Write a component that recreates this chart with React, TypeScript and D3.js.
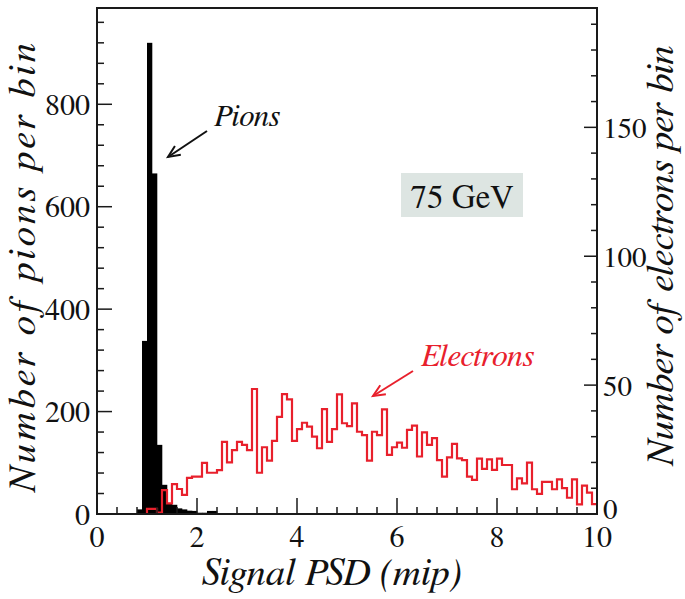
import React from "react";
import * as d3 from "d3";

const binWidth = 0.1;
const pionStart = 0.8;
const pionCounts = [9, 338, 920, 665, 135, 57, 19.5, 18, 11, 9, 6.5, 6, 2.5, 2.5, 6, 6];
const electronStart = 1.0;
const electronCounts = [
  2, 2, 0.5, 9.3, 4.1, 11.6, 9.7, 7.4, 14, 14.5,
  14.5, 19.8, 16, 16, 17, 28, 20, 24.8, 28, 26.8,
  24.8, 48.5, 16, 25.9, 20.7, 28.4, 37.7, 46.5, 44.5, 28.4,
  32.9, 35.4, 33.9, 30, 25.5, 40.7, 28, 32.9, 46.4, 35.2,
  34.1, 42.9, 31.9, 30.6, 20.7, 31.9, 30.6, 40.6, 22.9, 25.9,
  27.7, 25.7, 32.6, 34.3, 22.3, 31.7, 26.8, 29.4, 20.9, 14.5,
  22, 27.2, 21.6, 20.9, 14.5, 13.2, 21.5, 17.5, 21.2, 17.1,
  21.5, 19, 19, 9.6, 13.8, 11.9, 19.9, 9.6, 7.8, 12.5,
  12.5, 9.6, 13.4, 10, 6.3, 13.4, 3.7, 11, 8.3, 3.8,
];
const xMajorTicks = [0, 2, 4, 6, 8, 10];
const leftMajorTicks = [0, 200, 400, 600, 800];
const rightMajorTicks = [0, 50, 100, 150];

const W = 685, H = 599;
const L = 97, R = 597, T = 8, B = 514;
const FONT = "FreeSerif, 'Liberation Serif', serif";
const RED = "#e8202c";

export default function App() {
  const x = d3.scaleLinear().domain([0, 10]).range([L, R]);
  const yL = d3.scaleLinear().domain([0, 988]).range([B, T]);
  const yR = d3.scaleLinear().domain([0, 196.3]).range([B, T]);

  const xMinor = d3.range(0, 10.001, 0.4).filter((v) => Math.abs(v / 2 - Math.round(v / 2)) > 0.01);
  const lMinor = d3.range(40, 988, 40).filter((v) => v % 200 !== 0);
  const rMinor = d3.range(10, 196, 10).filter((v) => v % 50 !== 0);

  let ePath = `M${x(electronStart)},${yR(0)}`;
  electronCounts.forEach((c, i) => {
    const x0 = x(electronStart + i * binWidth);
    const x1 = x(electronStart + (i + 1) * binWidth);
    ePath += `L${x0},${yR(c)}L${x1},${yR(c)}`;
  });

  const arrowHead = (tx: number, ty: number, fx: number, fy: number, len = 13, spread = 0.42) => {
    const ang = Math.atan2(fy - ty, fx - tx);
    const a1 = ang + spread, a2 = ang - spread;
    return `M${tx + len * Math.cos(a1)},${ty + len * Math.sin(a1)}L${tx},${ty}L${tx + len * Math.cos(a2)},${ty + len * Math.sin(a2)}`;
  };

  const ts = { fontFamily: FONT };

  return (
    <svg width={W} height={H} style={{ position: "absolute", left: 0, top: 0, background: "#fff", fontFamily: FONT }}>
      <rect x={0} y={0} width={W} height={H} fill="#fff" />
      {pionCounts.map((c, i) => {
        const x0 = x(pionStart + i * binWidth);
        const x1 = x(pionStart + (i + 1) * binWidth);
        return <rect key={"p" + i} x={x0} y={yL(c)} width={x1 - x0 + 0.3} height={yL(0) - yL(c)} fill="#000" />;
      })}
      <path d={ePath} fill="none" stroke={RED} strokeWidth={2.2} strokeLinejoin="miter" />

      <rect x={L} y={T} width={R - L} height={B - T} fill="none" stroke="#1a1a1a" strokeWidth={2} />

      {xMajorTicks.map((v) => (
        <g key={"xm" + v}>
          <line x1={x(v)} x2={x(v)} y1={B} y2={B - 16} stroke="#1a1a1a" strokeWidth={1.5} />
          <text x={x(v)} y={547} fontSize={30} textAnchor="middle" fill="#111" style={ts}>{v}</text>
        </g>
      ))}
      {xMinor.map((v) => (
        <line key={"xn" + v} x1={x(v)} x2={x(v)} y1={B} y2={B - 7} stroke="#1a1a1a" strokeWidth={1.5} />
      ))}

      {leftMajorTicks.map((v) => (
        <g key={"lm" + v}>
          <line x1={L} x2={L + 15} y1={yL(v)} y2={yL(v)} stroke="#1a1a1a" strokeWidth={1.5} />
          <text x={90} y={yL(v) + 10.5} fontSize={30} textAnchor="end" fill="#111" style={ts}>{v}</text>
        </g>
      ))}
      {lMinor.map((v) => (
        <line key={"ln" + v} x1={L} x2={L + 7} y1={yL(v)} y2={yL(v)} stroke="#1a1a1a" strokeWidth={1.5} />
      ))}

      {rightMajorTicks.map((v) => (
        <g key={"rm" + v}>
          <line x1={R - 13} x2={R} y1={yR(v)} y2={yR(v)} stroke="#1a1a1a" strokeWidth={1.5} />
          <text x={603} y={yR(v) + (v === 0 ? 5 : 10.5)} fontSize={29} textAnchor="start" fill="#111" style={ts}>{v}</text>
        </g>
      ))}
      {rMinor.map((v) => (
        <line key={"rn" + v} x1={R - 6} x2={R} y1={yR(v)} y2={yR(v)} stroke="#1a1a1a" strokeWidth={1.5} />
      ))}

      <text x={332} y={585} fontSize={39} fontStyle="italic" textAnchor="middle" fill="#111" style={ts}>Signal PSD (mip)</text>
      <text transform="translate(35,268) rotate(-90)" fontSize={39} fontStyle="italic" textAnchor="middle" fill="#111"
        textLength={450} lengthAdjust="spacing" style={ts}>Number of pions per  bin</text>
      <text transform="translate(673,256) rotate(-90)" fontSize={39} fontStyle="italic" textAnchor="middle" fill="#111" style={ts}>Number of electrons per bin</text>

      <text x={214} y={126} fontSize={31} fontStyle="italic" fill="#111" style={ts}>Pions</text>
      <line x1={207} y1={131} x2={168} y2={157} stroke="#111" strokeWidth={2} />
      <path d={arrowHead(168, 157, 207, 131)} fill="none" stroke="#111" strokeWidth={2} />

      <text x={421} y={366} fontSize={32} fontStyle="italic" fill={RED} style={ts}>Electrons</text>
      <line x1={413} y1={371} x2={373} y2={396} stroke={RED} strokeWidth={2} />
      <path d={arrowHead(373, 396, 413, 371)} fill="none" stroke={RED} strokeWidth={2} />

      <rect x={401} y={173} width={122} height={44} fill="#dde5e2" />
      <text x={462} y={208} fontSize={33} textAnchor="middle" fill="#111" style={ts}>75 GeV</text>
    </svg>
  );
}
